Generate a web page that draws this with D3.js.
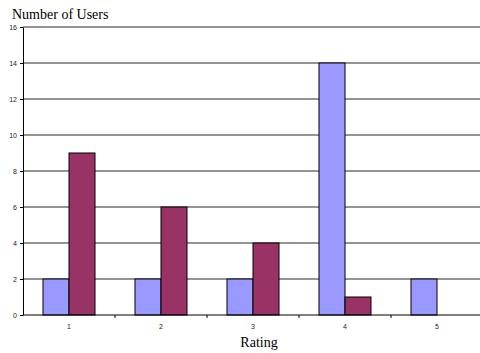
<!DOCTYPE html>
<html>
<head>
<meta charset="utf-8">
<script src="https://cdn.jsdelivr.net/npm/d3@7"></script>
<style>
  html, body { margin: 0; padding: 0; background: #fff; }
  svg { display: block; }
</style>
</head>
<body>
<svg id="chart" width="480" height="353"></svg>
<script>
// Ratings and how many users gave each one, for the two groups
const ratings = ["1", "2", "3", "4", "5"];
const seriesNames = ["groupA", "groupB"];
const groupA = [2, 2, 2, 14, 2];
const groupB = [9, 6, 4, 1, 0];
const yTicks = [0, 2, 4, 6, 8, 10, 12, 14, 16];
const yTitle = "Number of Users";
const xTitle = "Rating";

const colors = { groupA: "#9999ff", groupB: "#993366" };

const svg = d3.select("#chart");
const plotLeft = 23, plotRight = 483, plotTop = 27, plotBottom = 315;

const x = d3.scaleBand()
  .domain(ratings)
  .range([plotLeft, plotRight])
  .paddingInner(40 / 92)
  .paddingOuter(20 / 92);

const xSub = d3.scaleBand()
  .domain(seriesNames)
  .range([0, x.bandwidth()]);

const y = d3.scaleLinear().domain([0, 16]).range([plotBottom, plotTop]);

// horizontal gridlines
svg.append("g")
  .selectAll("line")
  .data(yTicks.filter(d => d > 0))
  .join("line")
  .attr("x1", plotLeft)
  .attr("x2", 480)
  .attr("y1", d => y(d))
  .attr("y2", d => y(d))
  .attr("stroke", "#707070")
  .attr("stroke-width", 1.4);

// bars
const rows = ratings.map((r, i) => ({ rating: r, groupA: groupA[i], groupB: groupB[i] }));
const groups = svg.append("g")
  .selectAll("g")
  .data(rows)
  .join("g")
  .attr("transform", d => `translate(${x(d.rating)},0)`);

groups.selectAll("rect")
  .data(d => seriesNames.map(k => ({ key: k, value: d[k] })).filter(v => v.value > 0))
  .join("rect")
  .attr("x", d => xSub(d.key))
  .attr("width", xSub.bandwidth())
  .attr("y", d => y(d.value))
  .attr("height", d => y(0) - y(d.value))
  .attr("fill", d => colors[d.key])
  .attr("stroke", "#000")
  .attr("stroke-width", 1);

// y axis
const yAxis = svg.append("g")
  .attr("transform", `translate(${plotLeft},0)`)
  .call(d3.axisLeft(y).tickValues(yTicks).tickSize(3).tickPadding(3).tickSizeOuter(0));
yAxis.select(".domain").attr("stroke", "#000");
yAxis.selectAll(".tick line").attr("stroke", "#000");
yAxis.selectAll("text")
  .attr("font-family", "Liberation Sans, Arial, sans-serif")
  .attr("font-size", 7)
  .attr("fill", "#222");

// x axis with ticks at category boundaries
const xAxis = svg.append("g")
  .attr("transform", `translate(0,${plotBottom})`);
xAxis.append("line")
  .attr("x1", plotLeft).attr("x2", 480)
  .attr("y1", 0).attr("y2", 0)
  .attr("stroke", "#000");
xAxis.selectAll("line.tick")
  .data(ratings.slice(1))
  .join("line")
  .attr("class", "tick")
  .attr("x1", d => x(d) - x.step() * x.paddingInner() / 2)
  .attr("x2", d => x(d) - x.step() * x.paddingInner() / 2)
  .attr("y1", 0).attr("y2", 3)
  .attr("stroke", "#000");
xAxis.selectAll("text")
  .data(ratings)
  .join("text")
  .attr("x", d => x(d) + x.bandwidth() / 2)
  .attr("y", 14)
  .attr("text-anchor", "middle")
  .attr("font-family", "Liberation Sans, Arial, sans-serif")
  .attr("font-size", 7)
  .attr("fill", "#222")
  .text(d => d);

// titles
svg.append("text")
  .attr("x", 12)
  .attr("y", 19)
  .attr("font-family", "Liberation Serif, Times New Roman, serif")
  .attr("font-size", 14)
  .attr("fill", "#000")
  .text(yTitle);

svg.append("text")
  .attr("x", 259)
  .attr("y", 347)
  .attr("text-anchor", "middle")
  .attr("font-family", "Liberation Serif, Times New Roman, serif")
  .attr("font-size", 14)
  .attr("fill", "#000")
  .text(xTitle);
</script>
</body>
</html>
